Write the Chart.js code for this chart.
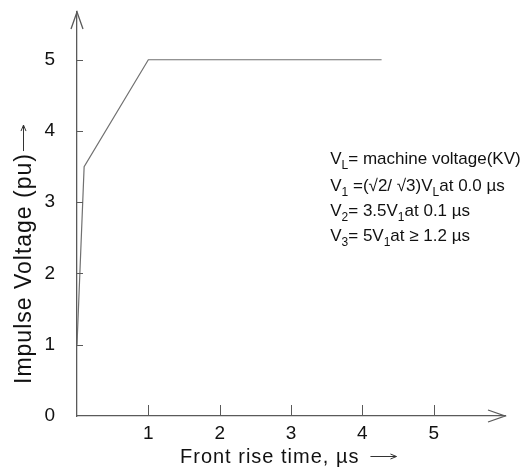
<!DOCTYPE html>
<html>
<head>
<meta charset="utf-8">
<script src="https://cdn.jsdelivr.net/npm/chart.js@4.4.1/dist/chart.umd.min.js"></script>
<style>
  html, body { margin: 0; padding: 0; background: #fff; }
  canvas { display: block; }
</style>
</head>
<body>
<canvas id="chart" width="522" height="468"></canvas>
<script>
// impulse front: voltage (pu) against front rise time (us)
const riseTime = [0, 0.1, 1.0, 4.27];
const voltage = [1, 3.5, 5, 5];
const xTicks = [1, 2, 3, 4, 5];
const yTicks = [0, 1, 2, 3, 4, 5];
const xTitle = 'Front rise time, \u00b5s';
const yTitle = 'Impulse Voltage (pu)';
// note lines, each one a list of [text, isSubscript]
const notes = [
  [['V', 0], ['L', 1], ['= machine voltage(KV)', 0]],
  [['V', 0], ['1', 1], [' =(\u221a2/ \u221a3)V', 0], ['L', 1], ['at 0.0 \u00b5s', 0]],
  [['V', 0], ['2', 1], ['= 3.5V', 0], ['1', 1], ['at 0.1 \u00b5s', 0]],
  [['V', 0], ['3', 1], ['= 5V', 0], ['1', 1], ['at \u2265 1.2 \u00b5s', 0]]
];

const FONT = "'Liberation Sans', Arial, sans-serif";
const AXIS = '#5a5a5a';
const INK = '#111';

function arrowLine(ctx, x1, x2, y) {
  ctx.beginPath();
  ctx.moveTo(x1, y); ctx.lineTo(x2, y);
  ctx.moveTo(x2 - 6, y - 2.5); ctx.lineTo(x2, y); ctx.lineTo(x2 - 6, y + 2.5);
  ctx.stroke();
}

// arrows, tick marks, titles and the note block
const decorations = {
  id: 'decorations',
  afterDraw(chart) {
    const ctx = chart.ctx;
    const xs = chart.scales.x, ys = chart.scales.y;
    const x0 = xs.getPixelForValue(0), y0 = ys.getPixelForValue(0);
    const xEnd = xs.right, yEnd = ys.top;
    ctx.save();
    ctx.strokeStyle = AXIS;
    ctx.lineWidth = 1.3;
    // arrow heads
    ctx.beginPath();
    ctx.moveTo(x0 - 6, yEnd + 17); ctx.lineTo(x0, yEnd); ctx.lineTo(x0 + 6, yEnd + 17);
    ctx.moveTo(xEnd - 17, y0 - 6); ctx.lineTo(xEnd, y0); ctx.lineTo(xEnd - 17, y0 + 6);
    ctx.stroke();
    // tick marks, drawn inside the axes
    ctx.lineWidth = 1;
    ctx.beginPath();
    xTicks.forEach(v => {
      const px = Math.round(xs.getPixelForValue(v)) + 0.5;
      ctx.moveTo(px, y0); ctx.lineTo(px, y0 - 11);
    });
    yTicks.filter(v => v > 0).forEach(v => {
      const py = Math.round(ys.getPixelForValue(v)) + 0.5;
      ctx.moveTo(x0, py); ctx.lineTo(x0 + 6, py);
    });
    ctx.stroke();

    // axis titles with their little arrows
    ctx.fillStyle = INK;
    ctx.strokeStyle = '#333';
    ctx.lineWidth = 1;
    ctx.textBaseline = 'alphabetic';
    ctx.textAlign = 'left';
    ctx.letterSpacing = '1px';
    ctx.font = '20px ' + FONT;
    const tx = 180, ty = 463;
    ctx.fillText(xTitle, tx, ty);
    const tw = ctx.measureText(xTitle).width;
    arrowLine(ctx, tx + tw + 11, tx + tw + 37, ty - 6.5);

    ctx.save();
    ctx.translate(31, 384);
    ctx.rotate(-Math.PI / 2);
    ctx.font = '23px ' + FONT;
    ctx.fillText(yTitle, 0, 0);
    const yw = ctx.measureText(yTitle).width;
    arrowLine(ctx, yw + 2, yw + 28, -7.5);
    ctx.restore();

    // notes, anchored to the data scales
    ctx.letterSpacing = '0px';
    const nx = xs.getPixelForValue(3.55);
    const lineY = [3.54, 3.16, 2.81, 2.46].map(v => ys.getPixelForValue(v));
    notes.forEach((parts, i) => {
      let cx = nx;
      parts.forEach(([text, sub]) => {
        ctx.font = (sub ? '12px ' : '17px ') + FONT;
        ctx.fillText(text, cx, lineY[i] + (sub ? 5 : 0));
        cx += ctx.measureText(text).width;
      });
    });
    ctx.restore();
  }
};

new Chart(document.getElementById('chart'), {
  type: 'line',
  data: {
    datasets: [{
      data: riseTime.map((t, i) => ({ x: t, y: voltage[i] })),
      borderColor: '#707070',
      borderWidth: 1.2,
      pointRadius: 0,
      tension: 0,
      fill: false
    }]
  },
  options: {
    responsive: false,
    animation: false,
    layout: { padding: { top: 12, right: 17, left: 0, bottom: 0 } },
    plugins: { legend: { display: false }, tooltip: { enabled: false } },
    scales: {
      x: {
        type: 'linear',
        min: 0,
        max: 6.0,
        afterFit: s => { s.height = 52; s.paddingLeft = 0; s.paddingRight = 0; },
        afterBuildTicks: s => { s.ticks = xTicks.map(v => ({ value: v })); },
        grid: { display: false, drawTicks: false },
        border: { display: true, color: AXIS, width: 1.3 },
        ticks: { color: INK, font: { family: FONT, size: 19 }, padding: 6 }
      },
      y: {
        type: 'linear',
        min: 0,
        max: 5.67,
        afterFit: s => { s.width = 77; s.paddingTop = 0; s.paddingBottom = 0; },
        afterBuildTicks: s => { s.ticks = yTicks.map(v => ({ value: v })); },
        grid: { display: false, drawTicks: false },
        border: { display: true, color: AXIS, width: 1.3 },
        ticks: { color: INK, font: { family: FONT, size: 19 }, padding: 22 }
      }
    }
  },
  plugins: [decorations]
});
</script>
</body>
</html>
